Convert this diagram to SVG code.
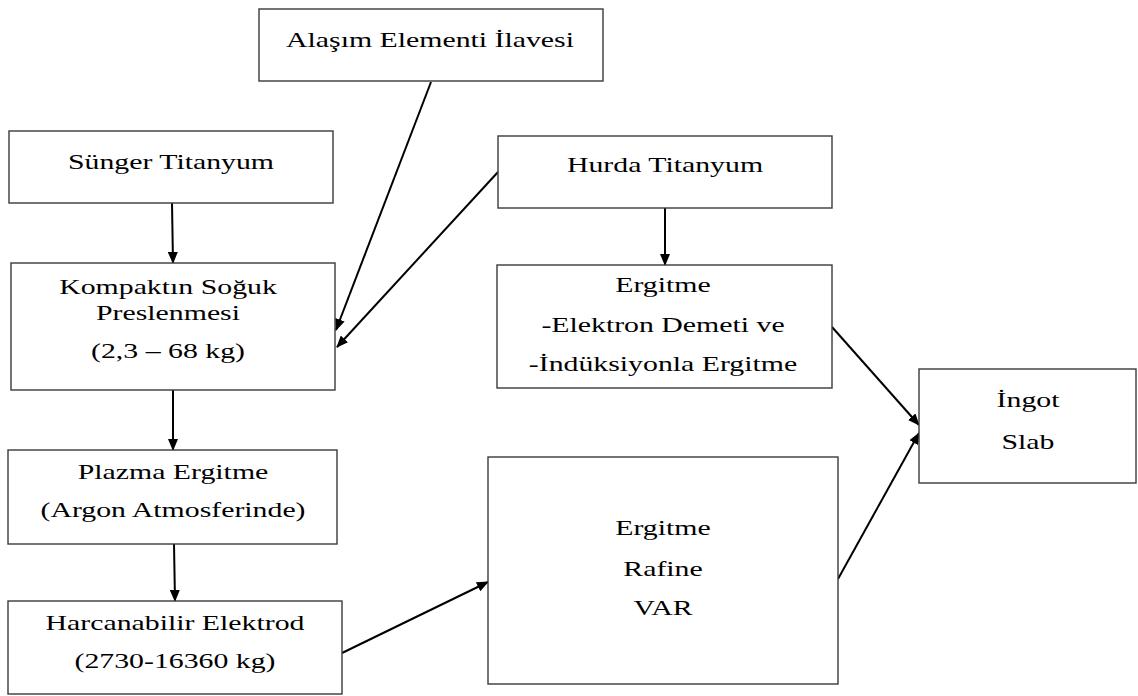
<svg xmlns="http://www.w3.org/2000/svg" width="1138" height="696" viewBox="0 0 1138 696">
<style>
.box{fill:#fff;stroke:#3a3a3a;stroke-width:1.4}
.t{font-family:"Liberation Serif","Times New Roman","DejaVu Serif",serif;font-size:21px;fill:#000;text-anchor:middle}
.c{stroke:#000;stroke-width:2;fill:none;marker-end:url(#ah)}
</style>
<defs>
<marker id="ah" viewBox="0 0 12 10" refX="11" refY="5" markerWidth="12" markerHeight="10" markerUnits="userSpaceOnUse" orient="auto">
<path d="M0,0 L12,5 L0,10 Z" fill="#000"/>
</marker>
</defs>
<rect width="1138" height="696" fill="#fff"/>
<g id="connectors">
<line class="c" x1="172" y1="203" x2="173" y2="263"/>
<line class="c" x1="431" y1="82" x2="336" y2="330"/>
<line class="c" x1="498" y1="172" x2="337" y2="347"/>
<line class="c" x1="665" y1="208" x2="665" y2="265"/>
<line class="c" x1="173" y1="390" x2="173" y2="450"/>
<line class="c" x1="174" y1="544" x2="175" y2="601"/>
<line class="c" x1="342" y1="653" x2="488" y2="582"/>
<line class="c" x1="832" y1="327" x2="919" y2="425"/>
<line class="c" x1="838" y1="579" x2="919" y2="433"/>
</g>
<g id="alasim">
<rect class="box" x="259" y="9" width="344" height="72"/>
<text class="t" transform="translate(430,47) scale(1.42,1)">Alaşım Elementi İlavesi</text>
</g>
<g id="sunger">
<rect class="box" x="9" y="131" width="324" height="72"/>
<text class="t" transform="translate(171,169) scale(1.42,1)">Sünger Titanyum</text>
</g>
<g id="kompakt">
<rect class="box" x="11" y="263" width="324" height="127"/>
<text class="t" transform="translate(168,294) scale(1.42,1)">Kompaktın Soğuk</text>
<text class="t" transform="translate(168,320) scale(1.42,1)">Preslenmesi</text>
<text class="t" transform="translate(168,358) scale(1.42,1)">(2,3 – 68 kg)</text>
</g>
<g id="hurda">
<rect class="box" x="498" y="136" width="334" height="72"/>
<text class="t" transform="translate(665,172) scale(1.42,1)">Hurda Titanyum</text>
</g>
<g id="ergitme1">
<rect class="box" x="497" y="265" width="335" height="123"/>
<text class="t" transform="translate(663,292) scale(1.42,1)">Ergitme</text>
<text class="t" transform="translate(663,332) scale(1.42,1)">-Elektron Demeti ve</text>
<text class="t" transform="translate(663,371) scale(1.42,1)">-İndüksiyonla Ergitme</text>
</g>
<g id="ingot">
<rect class="box" x="919" y="369" width="217" height="114"/>
<text class="t" transform="translate(1028,407) scale(1.42,1)">İngot</text>
<text class="t" transform="translate(1028,449) scale(1.42,1)">Slab</text>
</g>
<g id="plazma">
<rect class="box" x="8" y="450" width="329" height="94"/>
<text class="t" transform="translate(173,479) scale(1.42,1)">Plazma Ergitme</text>
<text class="t" transform="translate(173,517) scale(1.42,1)">(Argon Atmosferinde)</text>
</g>
<g id="harcanabilir">
<rect class="box" x="8" y="601" width="334" height="93"/>
<text class="t" transform="translate(175,630) scale(1.42,1)">Harcanabilir Elektrod</text>
<text class="t" transform="translate(175,668) scale(1.42,1)">(2730-16360 kg)</text>
</g>
<g id="var">
<rect class="box" x="488" y="457" width="350" height="227"/>
<text class="t" transform="translate(663,535) scale(1.42,1)">Ergitme</text>
<text class="t" transform="translate(663,576) scale(1.42,1)">Rafine</text>
<text class="t" transform="translate(663,615) scale(1.42,1)">VAR</text>
</g>
</svg>
